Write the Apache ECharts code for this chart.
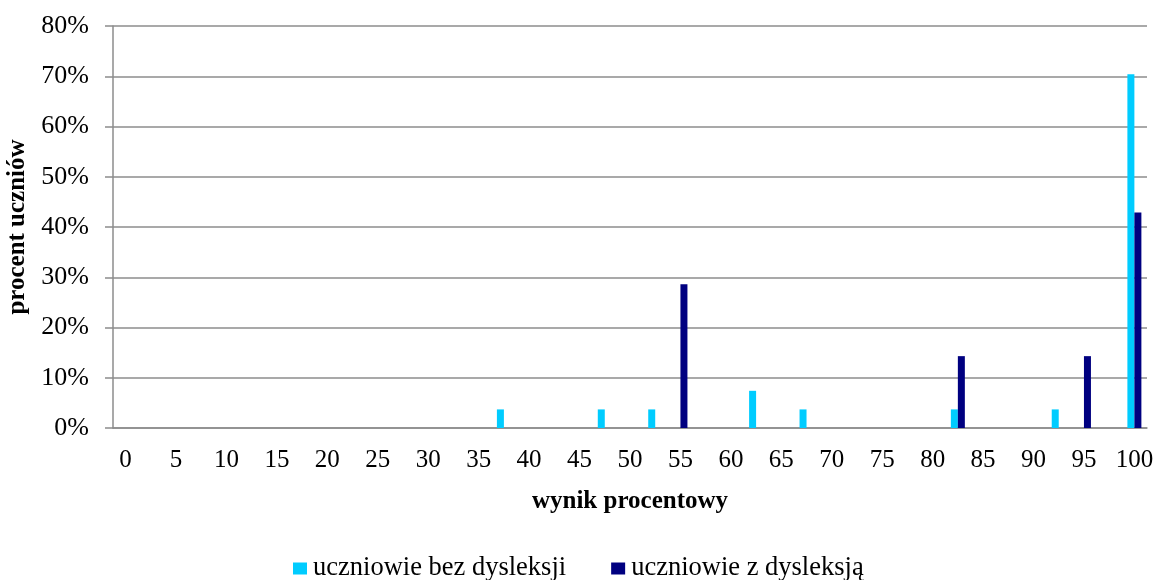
<!DOCTYPE html>
<html>
<head>
<meta charset="utf-8">
<script src="https://cdn.jsdelivr.net/npm/echarts@6/dist/echarts.min.js"></script>
<style>
  html, body { margin: 0; padding: 0; background: #fff; }
  #chart { width: 1154px; height: 580px; }
</style>
</head>
<body>
<div id="chart"></div>
<script>
// Score bins (percent of maximum score), step 2.5
const categories = [
  '0', '2,5', '5', '7,5', '10', '12,5', '15', '17,5', '20', '22,5',
  '25', '27,5', '30', '32,5', '35', '37,5', '40', '42,5', '45', '47,5',
  '50', '52,5', '55', '57,5', '60', '62,5', '65', '67,5', '70', '72,5',
  '75', '77,5', '80', '82,5', '85', '87,5', '90', '92,5', '95', '97,5',
  '100'
];

// Share of students (%) in each bin
const bezDysleksji = [
  0, 0, 0, 0, 0, 0, 0, 0, 0, 0,
  0, 0, 0, 0, 0, 3.7, 0, 0, 0, 3.7,
  0, 3.7, 0, 0, 0, 7.4, 0, 3.7, 0, 0,
  0, 0, 0, 3.7, 0, 0, 0, 3.7, 0, 0,
  70.4
];
const zDysleksja = [
  0, 0, 0, 0, 0, 0, 0, 0, 0, 0,
  0, 0, 0, 0, 0, 0, 0, 0, 0, 0,
  0, 0, 28.6, 0, 0, 0, 0, 0, 0, 0,
  0, 0, 0, 14.3, 0, 0, 0, 0, 14.3, 0,
  42.9
];

const seriesNames = ['uczniowie bez dysleksji', 'uczniowie z dysleksją'];

const font = 'Liberation Serif, Times New Roman, serif';
const gridColor = '#8c8c8c';

const chart = echarts.init(document.getElementById('chart'));
chart.setOption({
  animation: false,
  textStyle: { fontFamily: font },
  grid: { left: 113, right: 7, top: 26, bottom: 152, containLabel: false, outerBoundsMode: 'none' },
  legend: {
    data: seriesNames,
    left: 288,
    top: 550,
    icon: 'rect',
    itemWidth: 14,
    itemHeight: 12,
    itemGap: 45,
    itemStyle: { borderWidth: 0 },
    textStyle: { fontFamily: font, fontSize: 26.5, color: '#000', padding: [0, 0, 0, 1] }
  },
  xAxis: {
    type: 'category',
    data: categories,
    name: 'wynik procentowy',
    nameLocation: 'middle',
    nameGap: 61,
    nameTextStyle: { fontFamily: font, fontSize: 25, fontWeight: 'bold', color: '#000' },
    axisLine: { lineStyle: { color: gridColor, width: 1.5 } },
    axisTick: { show: false },
    axisLabel: { interval: 1, margin: 20, fontSize: 25, color: '#000', fontFamily: font }
  },
  yAxis: {
    type: 'value',
    min: 0,
    max: 80,
    interval: 10,
    name: 'procent uczniów',
    nameLocation: 'middle',
    nameGap: 80,
    nameTextStyle: { fontFamily: font, fontSize: 25, fontWeight: 'bold', color: '#000' },
    axisLine: { show: true, lineStyle: { color: gridColor, width: 1.5 } },
    axisTick: { show: true, length: 8, lineStyle: { color: gridColor, width: 1.5 } },
    axisLabel: { margin: 24, fontSize: 26, color: '#000', fontFamily: font, formatter: '{value}%' },
    splitLine: { lineStyle: { color: gridColor, width: 1.5 } }
  },
  series: [
    {
      name: seriesNames[0],
      type: 'bar',
      data: bezDysleksji,
      barWidth: 7,
      barGap: '0%',
      itemStyle: { color: '#00ccff' }
    },
    {
      name: seriesNames[1],
      type: 'bar',
      data: zDysleksja,
      barWidth: 7,
      barGap: '0%',
      itemStyle: { color: '#000080' }
    }
  ]
});
</script>
</body>
</html>
